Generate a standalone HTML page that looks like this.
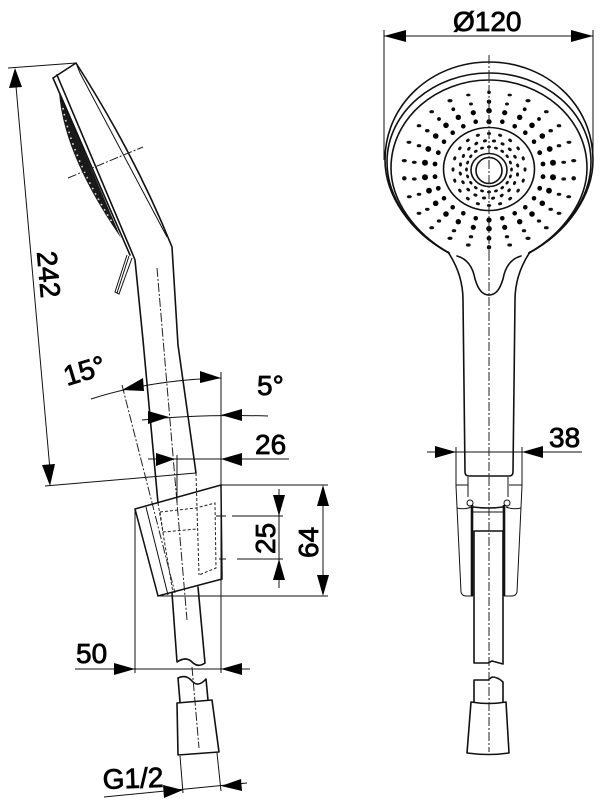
<!DOCTYPE html>
<html><head><meta charset="utf-8">
<style>
html,body{margin:0;padding:0;background:#fff;width:601px;height:808px;overflow:hidden}
svg{display:block}
text{font-family:"Liberation Sans",sans-serif;font-size:28px;fill:#000;stroke:#000;stroke-width:.8}
.m{fill:none;stroke:#111;stroke-width:1.6;stroke-linejoin:round;stroke-linecap:round}
.d{fill:none;stroke:#111;stroke-width:1}
.c{fill:none;stroke:#222;stroke-width:1;stroke-dasharray:9 2 2 2}
.s{fill:none;stroke:#222;stroke-width:1;stroke-dasharray:3 2}
.t{fill:none;stroke:#111;stroke-width:2.6}
polygon{fill:#000;stroke:none}
.h ellipse{fill:#111}
</style></head><body>
<svg width="601" height="808" viewBox="0 0 601 808" xmlns="http://www.w3.org/2000/svg">
<defs>
<g id="hl" class="h">
<ellipse cx="468.3" cy="95" rx="2.2" ry="1.4"/><ellipse cx="471" cy="104" rx="2" ry="1.5"/><circle cx="473.3" cy="112.7" r="2.6"/><circle cx="475.7" cy="121.7" r="2.3"/>
<ellipse cx="450" cy="100.7" rx="2.6" ry="1.7" fill="#444"/><circle cx="453.3" cy="109.3" r="1.9"/><circle cx="458.3" cy="117.3" r="2.7"/><circle cx="463.3" cy="126.3" r="2.3"/>
<ellipse cx="431.7" cy="111.7" rx="2.3" ry="1.6"/><circle cx="439" cy="119" r="1.9"/><circle cx="446" cy="125.3" r="2.8"/><circle cx="452.7" cy="132.7" r="2.3"/>
<ellipse cx="419" cy="125.7" rx="2.3" ry="1.6"/><ellipse cx="427.3" cy="130.7" rx="2.3" ry="1.7"/><circle cx="435.7" cy="136" r="2.8"/><circle cx="444" cy="141.7" r="2.3"/>
<ellipse cx="409" cy="142.3" rx="2.5" ry="1.6"/><ellipse cx="419" cy="145.7" rx="2.3" ry="1.6"/><circle cx="428.3" cy="149" r="2.9"/><circle cx="438.3" cy="152.7" r="2.4"/>
<ellipse cx="404.3" cy="160.7" rx="2.6" ry="1.7"/><ellipse cx="414.3" cy="162.3" rx="2.4" ry="1.6"/><circle cx="425" cy="162.7" r="3"/><circle cx="435" cy="164" r="2.4"/>
<ellipse cx="404.3" cy="178.3" rx="2.3" ry="2.2" fill="#444"/><ellipse cx="414.3" cy="179" rx="2.4" ry="1.6"/><circle cx="425" cy="177.3" r="3"/><circle cx="435" cy="176.7" r="2.4"/>
<ellipse cx="409.3" cy="196.7" rx="2.5" ry="1.6"/><ellipse cx="419" cy="194.3" rx="2.3" ry="1.6"/><circle cx="429" cy="190.7" r="2.9"/><circle cx="438.3" cy="188.3" r="2.4"/>
<ellipse cx="419" cy="213.3" rx="2.4" ry="1.6"/><ellipse cx="427.3" cy="209.3" rx="2.3" ry="1.6"/><circle cx="435.7" cy="203.3" r="2.8"/><circle cx="444" cy="198.3" r="2.3"/>
<ellipse cx="431.7" cy="227.7" rx="2.4" ry="1.6"/><ellipse cx="439" cy="221" rx="2.2" ry="1.6"/><circle cx="446" cy="214" r="2.8"/><circle cx="452.7" cy="207.3" r="2.3"/>
<ellipse cx="450" cy="238.3" rx="2.6" ry="1.7"/><ellipse cx="454" cy="230.7" rx="2.2" ry="1.6"/><circle cx="458.3" cy="221.7" r="2.7"/><circle cx="463.3" cy="213.3" r="2.3"/>
<ellipse cx="468.3" cy="245" rx="2.4" ry="1.6"/><ellipse cx="471" cy="236.7" rx="2.2" ry="1.6"/><circle cx="473.3" cy="227.3" r="2.6"/><circle cx="475.7" cy="218.3" r="2.3"/>
</g>
<g id="sp" class="h">
<ellipse cx="489" cy="133.5" rx="2.1" ry="1.5"/>
<ellipse cx="494" cy="141" rx="2.1" ry="1.5"/>
<ellipse cx="489" cy="147" rx="2" ry="1.4"/>
</g>
<g id="half"><use href="#sp"/><use href="#sp" transform="rotate(18 489 169.5)"/></g>
</defs>

<!-- SIDE VIEW: head -->
<path d="M59,92Q63.5,155 121,238L59,92Z" fill="#1a1a1a"/>
<path d="M63,108Q73,160 112,222" fill="none" stroke="#ddd" stroke-width="1.6" stroke-dasharray="1.6 4.5"/>
<path class="m" d="M130,255L53,78L76,63Q135,155 172,247L178,345L196,473"/>
<path class="m" d="M57,75L133,255L135,260L143,340L158,503"/>
<path class="d" d="M76,63L80,73L167,237"/>
<path class="d" d="M127,255L115,292L119,294L132,258M129,256L117,293"/>
<path class="c" d="M68,178L143,147"/>
<path class="c" d="M157,268L187,620"/>
<path class="c" d="M122,385L175,593"/>

<!-- bracket -->
<path d="M135,509L221,485L222,579L158,596Z" fill="none" stroke="#111" stroke-width="1.5"/>
<path class="d" d="M146,507L168,595"/>
<path class="s" d="M196,473L197,508L199,575M160,512L196,508L215,503L216,568L199,575M160,512L163,532L197,529M158,503L173,593"/>
<path class="m" d="M172,593L177,662Q186,656 192,662T205,663L198,587"/>
<path class="m" d="M178,678Q186,674 192,681T206,679L208,700M178,678L180,702"/>
<path class="m" d="M177,703L212,700L219,752L178,755Z"/>
<path class="d" d="M180,756L183,793M217,753L221,791"/>
<path class="c" d="M192,667L199,748"/>

<!-- dims side -->
<path class="d" d="M15,75L50,470M8,68L76,63M45,486L196,473"/>
<polygon points="15,68 9,88 22,87"/>
<polygon points="50,486 42,465 55,464"/>
<path class="d" d="M221,372V673M135,509V673"/>
<path class="d" d="M91,399Q150,380 221,378"/>
<polygon points="122,390 143,378 144,391"/>
<polygon points="221,378 200,371 200,383"/>
<path class="d" d="M142,420Q200,414 268,416"/>
<polygon points="169,417 148,411 148,424"/>
<polygon points="221,415 242,409 242,421"/>
<path class="d" d="M148,459H289M177,455V503"/>
<polygon points="175,459 156,453 156,466"/>
<polygon points="221,459 242,453 242,466"/>
<path class="d" d="M221,485H328M158,596H328M323,490V592"/>
<polygon points="323,485 317,506 329,506"/>
<polygon points="323,596 317,575 329,575"/>
<path class="d" d="M216,516H226M232,516H283M219,559H226M237,559H283M279,489V588"/>
<polygon points="279,516 273,495 285,495"/>
<polygon points="279,559 273,580 285,580"/>
<path class="d" d="M75,669H250"/>
<polygon points="135,669 114,663 114,675"/>
<polygon points="221,669 242,663 242,675"/>
<path class="d" d="M104,797L247,783"/>
<polygon points="183,790 163,785 164,798"/>
<polygon points="221,786 241,779 242,791"/>

<text transform="translate(67,386) rotate(-17)">15°</text>
<text x="257" y="395">5°</text>
<text x="255" y="454">26</text>
<text x="76" y="663">50</text>
<text transform="translate(103,789) rotate(-2)">G1/2</text>
<text transform="translate(37,252) rotate(85)">242</text>
<text transform="translate(275,554) rotate(-90)">25</text>
<text transform="translate(318,558) rotate(-90)">64</text>

<!-- FRONT VIEW -->
<g id="ringsL">
<path class="m" d="M489,62C432,62 385,104 385,160C385,195 410,232 449,253"/>
<path class="m" d="M489,73C434,73 387,112 387,162C387,198 412,232 449,253"/>
<path class="m" d="M489,80C437,80 391,118 391,168C391,200 414,233 449,253"/>
<path class="m" d="M448,252C456,264 463,280 463,300L465,472Q465,476 469,476H489"/>
<path class="m" d="M457,256C468,259 473,268 475,279C478,289 482,295 489,295"/>
</g>
<use href="#ringsL" transform="translate(978,0) scale(-1,1)"/>
<use href="#hl"/>
<use href="#hl" transform="translate(978,0) scale(-1,1)"/>
<g class="h">
<circle cx="489" cy="92.3" r="1.8"/><circle cx="489" cy="101.7" r="2.2"/><circle cx="489" cy="110.7" r="2.8"/><circle cx="489" cy="121.7" r="2.6"/>
<circle cx="489" cy="220" r="2.6"/><circle cx="489" cy="228.7" r="2.8"/><circle cx="489" cy="238.3" r="2.4"/><circle cx="489" cy="247.3" r="2.2"/>
</g>
<ellipse class="m" cx="489" cy="169" rx="45.5" ry="41.5"/>
<use href="#half"/><use href="#half" transform="rotate(36 489 169.5)"/><use href="#half" transform="rotate(72 489 169.5)"/><use href="#half" transform="rotate(108 489 169.5)"/><use href="#half" transform="rotate(144 489 169.5)"/><use href="#half" transform="rotate(180 489 169.5)"/><use href="#half" transform="rotate(216 489 169.5)"/><use href="#half" transform="rotate(252 489 169.5)"/><use href="#half" transform="rotate(288 489 169.5)"/><use href="#half" transform="rotate(324 489 169.5)"/>
<ellipse class="m" cx="489" cy="170" rx="18" ry="16.5"/>
<ellipse class="m" cx="489" cy="170.5" rx="13" ry="13"/>

<!-- front dims -->
<path class="d" d="M384,30V160M593,30V160M384,36H593"/>
<polygon points="384,36 406,30 406,42"/>
<polygon points="593,36 571,30 571,42"/>
<text x="453" y="31">Ø120</text>
<path class="d" d="M427,452H582M456,447V486M522,447V486"/>
<polygon points="456,452 435,446 435,458"/>
<polygon points="522,452 543,446 543,458"/>
<text x="549" y="447">38</text>

<!-- clip front -->
<path class="d" d="M468,477V497M508,477V497"/>
<path class="d" d="M456,485H468M509,485H522"/>
<path class="d" d="M456,486L461,592Q462,596 466,596H473M522,486L517,592Q516,596 512,596H504"/>
<path class="d" d="M457,508Q465,510 471,507M521,508Q513,510 506,507"/>
<circle class="d" cx="470" cy="503" r="3"/><circle class="d" cx="507" cy="503" r="3"/>
<path class="t" d="M472,505V596M504,505V596"/>
<path class="m" d="M473,507Q489,509 503,507"/>
<path class="d" d="M473,512H503"/>
<path class="m" d="M475,531H503"/>
<path class="m" d="M474,531V663H488L492,661L503,664V531"/>
<path class="m" d="M474,702V680H488L492,677Q498,677 503,682V702"/>
<path class="m" d="M471,702Q489,705 506,702L509,753Q489,756 467,753Z"/>
<path class="c" d="M489,55V252" stroke-dasharray="5 2"/>
<path class="c" d="M489,252V752"/>
</svg>
</body></html>
